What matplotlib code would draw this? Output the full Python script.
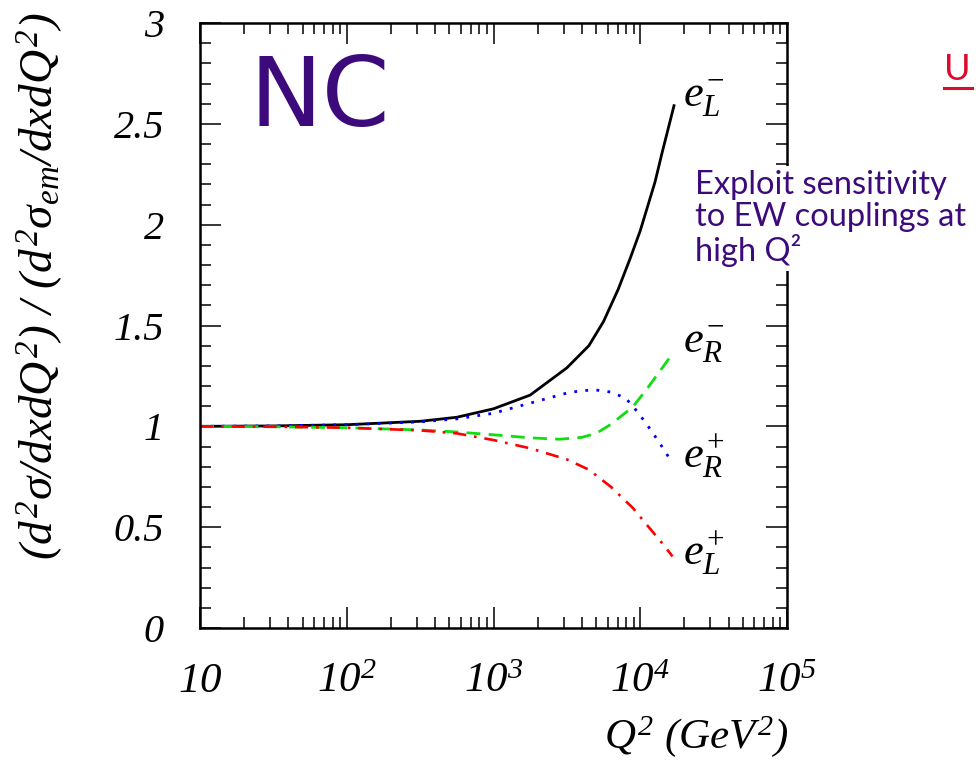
import numpy as np
import matplotlib
matplotlib.use("Agg")
from matplotlib import pyplot as plt
from matplotlib.lines import Line2D
from matplotlib.ticker import NullFormatter

plt.rcParams['font.family'] = ['Liberation Serif', 'DejaVu Serif']
plt.rcParams['font.style'] = 'italic'
plt.rcParams['mathtext.fontset'] = 'custom'
plt.rcParams['mathtext.rm'] = 'Liberation Serif:italic'
plt.rcParams['mathtext.it'] = 'Liberation Serif:italic'
plt.rcParams['mathtext.sf'] = 'Liberation Serif'

# log10(Q^2) and cross-section ratio
eLm_logq2 = [1.0, 1.5, 2.0, 2.5, 2.75, 3.0, 3.25, 3.5, 3.65, 3.75, 3.85, 3.93, 4.0, 4.1, 4.15, 4.23]
eLm_ratio = [1.0, 1.002, 1.008, 1.025, 1.045, 1.087, 1.155, 1.29, 1.40, 1.52, 1.68, 1.83, 1.97, 2.21, 2.36, 2.59]

eRp_logq2 = [1.0, 1.5, 2.0, 2.5, 2.75, 3.0, 3.25, 3.5, 3.6, 3.7, 3.8, 3.9, 3.95, 4.04, 4.13, 4.2]
eRp_ratio = [1.0, 1.002, 1.008, 1.022, 1.037, 1.065, 1.115, 1.165, 1.177, 1.18, 1.17, 1.14, 1.10, 1.015, 0.92, 0.84]

eRm_logq2 = [1.0, 1.5, 2.0, 2.5, 2.75, 3.0, 3.25, 3.45, 3.6, 3.7, 3.8, 3.95, 4.05, 4.15, 4.22]
eRm_ratio = [1.0, 0.998, 0.993, 0.982, 0.972, 0.958, 0.943, 0.936, 0.945, 0.965, 1.01, 1.097, 1.19, 1.29, 1.36]

eLp_logq2 = [1.0, 1.5, 2.0, 2.5, 2.75, 3.0, 3.25, 3.5, 3.65, 3.8, 3.95, 4.05, 4.15, 4.22]
eLp_ratio = [1.0, 0.998, 0.993, 0.98, 0.965, 0.932, 0.891, 0.836, 0.785, 0.70, 0.595, 0.507, 0.42, 0.355]

x_ticks = [10, 100, 1000, 10000, 100000]
x_ticklabels = ['$10$', '$10^{2}$', '$10^{3}$', '$10^{4}$', '$10^{5}$']
y_ticks = [0, 0.5, 1, 1.5, 2, 2.5, 3]
y_ticklabels = ['0', '0.5', '1', '1.5', '2', '2.5', '3']

purple = '#3d0a7b'

fig = plt.figure(figsize=(9.76, 7.62), dpi=100)
ax = fig.add_axes([200/976, 1-628/762, 587/976, 605/762])

ax.plot(10**np.array(eLm_logq2), eLm_ratio, color='black', lw=2.0, ls='-')
ax.plot(10**np.array(eRp_logq2), eRp_ratio, color='#0000ff', lw=2.0, ls=(0, (1, 3)))
ax.plot(10**np.array(eRm_logq2), eRm_ratio, color='#11dd11', lw=2.0, ls=(0, (5, 3)))
ax.plot(10**np.array(eLp_logq2), eLp_ratio, color='#ff0000', lw=1.9, ls=(0, (5, 3, 1, 3)))

ax.set_xscale('log')
ax.set_xlim(10, 1e5)
ax.set_ylim(0, 3)
ax.set_xticks(x_ticks)
ax.set_xticklabels(x_ticklabels)
minor_x = [m * 10**k for k in range(1, 5) for m in range(2, 10)]
ax.set_xticks(minor_x, minor=True)
ax.xaxis.set_minor_formatter(NullFormatter())
ax.set_yticks(y_ticks)
ax.set_yticklabels(y_ticklabels)
ax.set_yticks(np.arange(0, 3.01, 0.1), minor=True)

ax.tick_params(which='both', direction='in', top=True, right=True, width=1.1)
ax.tick_params(which='major', length=15)
ax.tick_params(which='minor', length=8)
ax.tick_params(axis='x', which='major', labelsize=31, pad=46)
ax.tick_params(axis='y', which='major', labelsize=29, pad=26)
for lbl in ax.get_xticklabels():
    lbl.set_verticalalignment('baseline')
for s in ax.spines.values():
    s.set_linewidth(1.8)

# curve labels
ax.text(1.95e4, 2.585, r'$e_L^{-}$', fontsize=32, va='baseline', ha='left')
ax.text(1.95e4, 1.362, r'$e_R^{-}$', fontsize=32, va='baseline', ha='left')
ax.text(1.95e4, 0.792, r'$e_R^{+}$', fontsize=32, va='baseline', ha='left')
ax.text(1.95e4, 0.312, r'$e_L^{+}$', fontsize=32, va='baseline', ha='left')

ax.text(0.085, 0.83, 'NC', transform=ax.transAxes, fontsize=70, color=purple,
        family='DejaVu Sans', style='normal', va='baseline')

fig.text(40/976, 1-12/762,
         r'$(d^2\mathsf{\sigma}/dxdQ^2)\ /\ (d^2\mathsf{\sigma}_{em}/dxdQ^2)$',
         rotation=90, fontsize=34, ha='center', va='top')
fig.text(789/976, 1-748/762, r'$Q^2\ (GeV^2)$', fontsize=31, ha='right', va='baseline')

fig.text(695/976, 1-170/762, 'Exploit sensitivity\nto EW couplings at\nhigh Q²',
         fontsize=23.5, color=purple, family='Lato', style='normal', va='top',
         linespacing=1.08, zorder=5,
         bbox=dict(facecolor='white', edgecolor='none', pad=3))

fig.text(944/976, 1-80/762, 'U', fontsize=26, color='#dc0a2c', family='Lato',
         style='normal', va='baseline')
fig.add_artist(Line2D([944/976, 972/976], [1-88/762, 1-88/762], color='#dc0a2c', lw=2.2))

fig.savefig('out.png', dpi=100)
